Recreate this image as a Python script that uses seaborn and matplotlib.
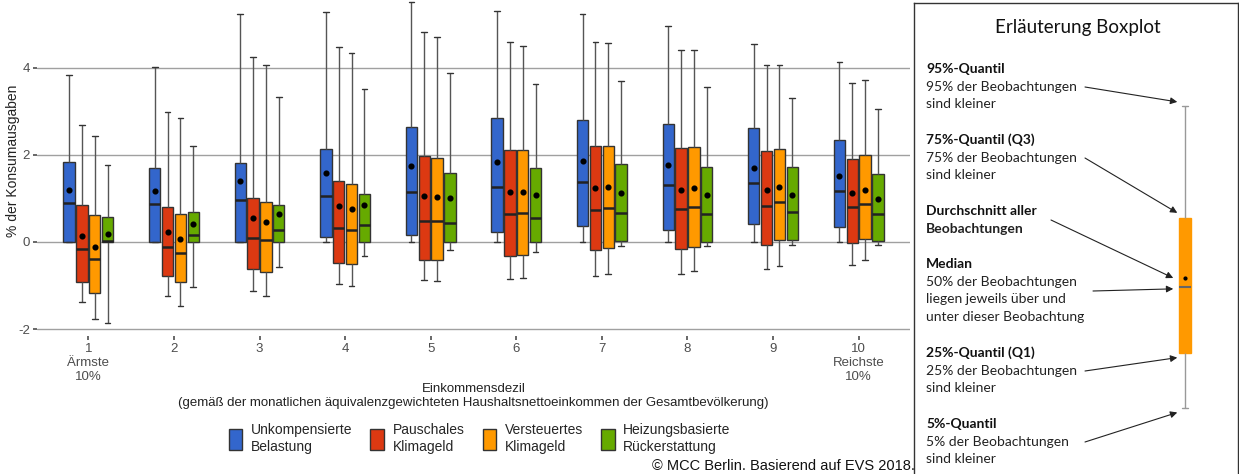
import numpy as np
import pandas as pd
import matplotlib
matplotlib.use("Agg")
import matplotlib.pyplot as plt
import seaborn as sns

# categories
deciles = ["1\nÄrmste\n10%", "2", "3", "4", "5", "6", "7", "8", "9", "10\nReichste\n10%"]
scenarios = ["Unkompensierte\nBelastung", "Pauschales\nKlimageld",
             "Versteuertes\nKlimageld", "Heizungsbasierte\nRückerstattung"]
colors = ["#3366CC", "#DC3912", "#FF9900", "#66AA00"]

# Unkompensierte Belastung
unkomp_p5 = [0.00, 0.00, 0.00, 0.00, 0.00, 0.00, 0.00, 0.00, 0.00, 0.00]
unkomp_q1 = [0.00, 0.00, 0.00, 0.11, 0.15, 0.24, 0.36, 0.28, 0.41, 0.35]
unkomp_med = [0.90, 0.88, 0.97, 1.06, 1.16, 1.27, 1.37, 1.32, 1.36, 1.18]
unkomp_q3 = [1.83, 1.69, 1.82, 2.13, 2.65, 2.85, 2.81, 2.70, 2.61, 2.34]
unkomp_p95 = [3.84, 4.02, 5.24, 5.29, 5.52, 5.31, 5.23, 4.97, 4.55, 4.13]
unkomp_mean = [1.20, 1.18, 1.39, 1.58, 1.75, 1.83, 1.85, 1.77, 1.71, 1.52]

# Pauschales Klimageld
pausch_p5 = [-1.39, -1.23, -1.13, -0.96, -0.88, -0.84, -0.79, -0.74, -0.63, -0.53]
pausch_q1 = [-0.92, -0.77, -0.61, -0.49, -0.42, -0.33, -0.18, -0.17, -0.06, -0.02]
pausch_med = [-0.15, -0.11, 0.10, 0.31, 0.49, 0.64, 0.73, 0.76, 0.82, 0.80]
pausch_q3 = [0.85, 0.80, 1.00, 1.40, 1.97, 2.11, 2.20, 2.15, 2.08, 1.90]
pausch_p95 = [2.69, 2.99, 4.25, 4.48, 4.83, 4.59, 4.59, 4.40, 4.07, 3.65]
pausch_mean = [0.14, 0.23, 0.55, 0.82, 1.05, 1.15, 1.23, 1.20, 1.20, 1.12]

# Versteuertes Klimageld
verst_p5 = [-1.78, -1.47, -1.23, -1.01, -0.90, -0.82, -0.74, -0.66, -0.56, -0.41]
verst_q1 = [-1.17, -0.92, -0.69, -0.51, -0.42, -0.31, -0.14, -0.12, 0.04, 0.07]
verst_med = [-0.38, -0.25, 0.04, 0.27, 0.48, 0.67, 0.79, 0.81, 0.91, 0.87]
verst_q3 = [0.62, 0.65, 0.93, 1.33, 1.94, 2.11, 2.21, 2.19, 2.14, 1.99]
verst_p95 = [2.44, 2.84, 4.07, 4.35, 4.70, 4.50, 4.57, 4.41, 4.07, 3.72]
verst_mean = [-0.11, 0.07, 0.46, 0.76, 1.03, 1.16, 1.26, 1.25, 1.26, 1.19]

# Heizungsbasierte Rückerstattung
heiz_p5 = [-1.85, -1.04, -0.57, -0.33, -0.18, -0.24, -0.09, -0.09, -0.07, -0.07]
heiz_q1 = [0.00, 0.00, 0.00, 0.00, 0.00, 0.00, 0.02, 0.00, 0.05, 0.02]
heiz_med = [0.02, 0.17, 0.27, 0.38, 0.44, 0.56, 0.66, 0.65, 0.70, 0.65]
heiz_q3 = [0.57, 0.69, 0.85, 1.10, 1.59, 1.71, 1.79, 1.72, 1.72, 1.57]
heiz_p95 = [1.77, 2.21, 3.33, 3.52, 3.88, 3.63, 3.69, 3.56, 3.30, 3.05]
heiz_mean = [0.18, 0.41, 0.65, 0.84, 1.00, 1.07, 1.12, 1.08, 1.07, 0.98]

# example box for the explanation panel
ex_p5, ex_q1, ex_med, ex_q3, ex_p95, ex_mean = -2.0, -1.1, 0.0, 1.15, 3.0, 0.15

quantiles = [
    (unkomp_p5, unkomp_q1, unkomp_med, unkomp_q3, unkomp_p95),
    (pausch_p5, pausch_q1, pausch_med, pausch_q3, pausch_p95),
    (verst_p5, verst_q1, verst_med, verst_q3, verst_p95),
    (heiz_p5, heiz_q1, heiz_med, heiz_q3, heiz_p95),
]
means_list = [unkomp_mean, pausch_mean, verst_mean, heiz_mean]

# five values per box -> quartiles are exact, whiskers go to min/max (5%/95%)
rows = []
for s, qs in zip(scenarios, quantiles):
    for i, d in enumerate(deciles):
        for q in qs:
            rows.append({"Dezil": d, "Szenario": s, "Wert": q[i]})
df = pd.DataFrame(rows)

mean_rows = []
for s, m in zip(scenarios, means_list):
    for i, d in enumerate(deciles):
        mean_rows.append({"Dezil": d, "Szenario": s, "Wert": m[i]})
df_mean = pd.DataFrame(mean_rows)

sns.set_theme(style="white")
plt.rcParams["font.family"] = ["Liberation Sans", "DejaVu Sans"]
plt.rcParams["axes.unicode_minus"] = False

W, H = 1239, 474
fig = plt.figure(figsize=(W / 100, H / 100), dpi=100)
ax = fig.add_axes([37 / W, (H - 336) / H, 873 / W, 336 / H])

sns.boxplot(data=df, x="Dezil", y="Wert", hue="Szenario", order=deciles,
            hue_order=scenarios, palette=colors, saturation=1, width=0.6, gap=0.12,
            whis=(0, 100), showfliers=False, linecolor="#333333", linewidth=1,
            medianprops=dict(color="#222222", linewidth=1.8),
            whiskerprops=dict(color="#555555", linewidth=1),
            ax=ax)
sns.pointplot(data=df_mean, x="Dezil", y="Wert", hue="Szenario", order=deciles,
              hue_order=scenarios, palette=["black"] * 4, dodge=0.45,
              linestyle="none", markers="o", markersize=2.4, errorbar=None,
              legend=False, ax=ax)

ax.set_xlim(-0.6, 9.6)
ax.set_ylim(-2.16, 5.56)
ax.set_yticks([-2, 0, 2, 4])
ax.yaxis.grid(True, color="#a0a0a0", linewidth=1)
ax.set_axisbelow(True)
for sp in ax.spines.values():
    sp.set_visible(False)
ax.tick_params(axis="both", length=3, color="#555555", labelcolor="#4d4d4d",
               labelsize=9.5, pad=2, left=True, bottom=True)
ax.set_ylabel("% der Konsumausgaben", fontsize=10, color="#222222")
ax.yaxis.set_label_coords(-17 / 873, 0.52)
ax.set_xlabel("Einkommensdezil\n(gemäß der monatlichen äquivalenzgewichteten "
              "Haushaltsnettoeinkommen der Gesamtbevölkerung)",
              fontsize=9.5, color="#222222", labelpad=0, linespacing=1.3)

sns.move_legend(ax, "center", bbox_to_anchor=(0.507, -0.305), ncol=4, title=None,
                frameon=False, fontsize=10, handlelength=1.0, handleheight=2.0,
                columnspacing=1.3, handletextpad=0.6)

fig.text(915 / W, 1 - 466 / H, "© MCC Berlin. Basierend auf EVS 2018.",
         ha="right", va="center", fontsize=10.5, color="#111111")

# explanation panel
ax2 = fig.add_axes([914 / W, 0, 324 / W, 471 / H])
sns.boxplot(y=[ex_p5, ex_q1, ex_med, ex_q3, ex_p95], ax=ax2, color="#FF9900",
            saturation=1, width=0.8, whis=(0, 100), showfliers=False,
            linecolor="#999999", linewidth=1, boxprops=dict(edgecolor="#FF9900"),
            medianprops=dict(color="#666666", linewidth=1.5))
ax2.plot([0], [ex_mean], "o", color="black", ms=2)
ax2.set_xlim(-18.13, 3.53)
ax2.set_ylim(-3.10, 4.71)
ax2.set_xticks([])
ax2.set_yticks([])
ax2.set_xlabel("")
ax2.set_ylabel("")
for name, sp in ax2.spines.items():
    sp.set_color("#333333")
    sp.set_linewidth(1)
ax2.spines["bottom"].set_visible(False)


def fx(p):
    return (p - 914) / 324


def fy(p):
    return 1 - (p - 3) / 471


panel_font = ["Lato", "DejaVu Sans"]
ax2.text(fx(1078), fy(27), "Erläuterung Boxplot", transform=ax2.transAxes,
         ha="center", va="center", fontsize=13.5, family=panel_font, color="#111111")

blocks = [
    ("95%-Quantil", ["95% der Beobachtungen", "sind kleiner"], 69),
    ("75%-Quantil (Q3)", ["75% der Beobachtungen", "sind kleiner"], 140),
    ("Durchschnitt aller", ["Beobachtungen"], 211),
    ("Median", ["50% der Beobachtungen", "liegen jeweils über und",
                "unter dieser Beobachtung"], 264),
    ("25%-Quantil (Q1)", ["25% der Beobachtungen", "sind kleiner"], 353),
    ("5%-Quantil", ["5% der Beobachtungen", "sind kleiner"], 424),
]
for head, body, y0 in blocks:
    ax2.text(fx(926), fy(y0), head, transform=ax2.transAxes, ha="left",
             va="center", fontsize=10, fontweight="bold", family=panel_font,
             color="#111111")
    bold_body = head == "Durchschnitt aller"
    for k, line in enumerate(body):
        ax2.text(fx(926), fy(y0 + 17.7 * (k + 1)), line, transform=ax2.transAxes,
                 ha="left", va="center", fontsize=10, family=panel_font,
                 fontweight="bold" if bold_body else "normal", color="#222222")

arrows = [
    (ex_p95 + 0.07, -0.53, 1085, 87),
    (ex_q3 + 0.08, -0.53, 1085, 158),
    (ex_mean, -0.8, 1051, 220),
    (ex_med - 0.03, -0.8, 1093, 291),
    (ex_q1 - 0.07, -0.53, 1085, 371),
    (ex_p5 - 0.08, -0.53, 1085, 442),
]
for yv, xv, tx, ty in arrows:
    ax2.annotate("", xy=(xv, yv), xycoords="data", xytext=(fx(tx), fy(ty)),
                 textcoords="axes fraction",
                 arrowprops=dict(arrowstyle="-|>", color="#222222", lw=0.8,
                                 mutation_scale=10, shrinkA=0, shrinkB=0))

fig.savefig("out.png", dpi=100)
